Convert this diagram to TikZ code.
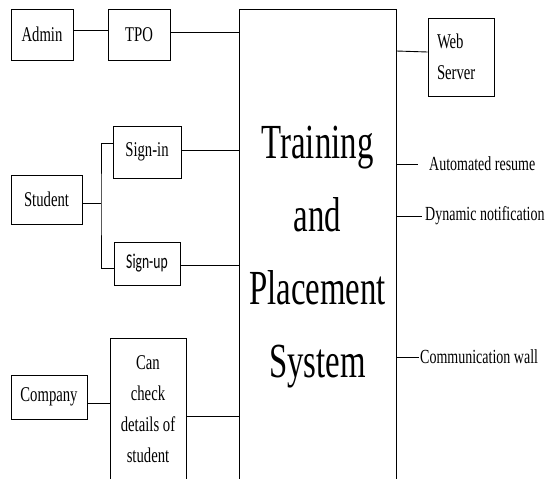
\documentclass[tikz,border=0pt]{standalone}
\usepackage{fontspec}
\setmainfont{Liberation Serif}[FakeStretch=0.7]
\newfontfamily\calib{Carlito}[FakeStretch=0.65]
\newfontfamily\bigser{Liberation Serif}[FakeStretch=0.67]
\begin{document}
\begin{tikzpicture}[x=1pt,y=1pt,
  box/.style={draw,line width=0.9pt,inner sep=0pt,font=\fontsize{21}{31}\selectfont,align=center},
  lbl/.style={anchor=west,inner xsep=1pt,inner ysep=0pt,font=\fontsize{20}{24}\selectfont},
  conn/.style={line width=0.9pt}]
\useasboundingbox (0,0) rectangle (547,-479);
\fill[white] (0,0) rectangle (547,-479);
% main
\node[box,minimum width=157,minimum height=496,font=\bigser\fontsize{49}{73}\selectfont] (main) at (317.5,-257) {Training\\and\\Placement\\System};
% left boxes
\node[box,minimum width=62,minimum height=51] (admin) at (42,-34.5) {Admin};
\node[box,minimum width=62,minimum height=51] (tpo) at (139,-34.5) {TPO};
\node[box,minimum width=68,minimum height=52] (signin) at (147,-152) {Sign-in};
\node[box,minimum width=71,minimum height=49] (student) at (46.5,-199.5) {Student};
\node[box,minimum width=66,minimum height=43,font=\calib\fontsize{21}{25}\selectfont] (signup) at (147,-263.5) {Sign-up};
\node[box,minimum width=76,minimum height=44] (company) at (49,-397) {Company};
\node[box,minimum width=76,minimum height=143] (check) at (148,-409.5) {Can\\check\\details of\\student};
% right
\node[box,minimum width=66,minimum height=78,text width=48,inner xsep=9,align=left] (web) at (461,-57) {Web\\Server};
\node[lbl] (auto) at (428,-164) {Automated resume};
\node[lbl] (dyn) at (424,-216) {Dynamic notification};
\node[lbl] (comm) at (419,-357) {Communication wall};
\coordinate (fork) at (101,-203);
% connectors
\draw[conn] ([yshift=4.5]admin.east) -- ([yshift=4.5]tpo.west);
\draw[conn] ([yshift=2.5]tpo.east) -- ([yshift=2.5]tpo.east -| main.west);
\draw[conn] ([yshift=2]signin.east) -- ([yshift=2]signin.east -| main.west);
\draw[conn] ([yshift=-3.5]student.east) -- (fork);
\draw[conn] ([yshift=9]signin.west) -| (fork) |- ([yshift=-4.5]signup.west);
\draw[conn] ([yshift=-1.5]signup.east) -- ([yshift=-1.5]signup.east -| main.west);
\draw[conn] ([yshift=-6]company.east) -- ([yshift=-6]company.east -| check.west);
\draw[conn] ([yshift=-6.5]check.east) -- ([yshift=-6.5]check.east -| main.west);
\draw[conn] ([yshift=6]web.west -| main.east) -- ([yshift=5]web.west);
\draw[conn,shorten >=10pt] (auto.west -| main.east) -- (auto.west);
\draw[conn,shorten >=2pt] (dyn.west -| main.east) -- (dyn.west);
\draw[conn] (comm.west -| main.east) -- (comm.west);
\end{tikzpicture}
\end{document}
